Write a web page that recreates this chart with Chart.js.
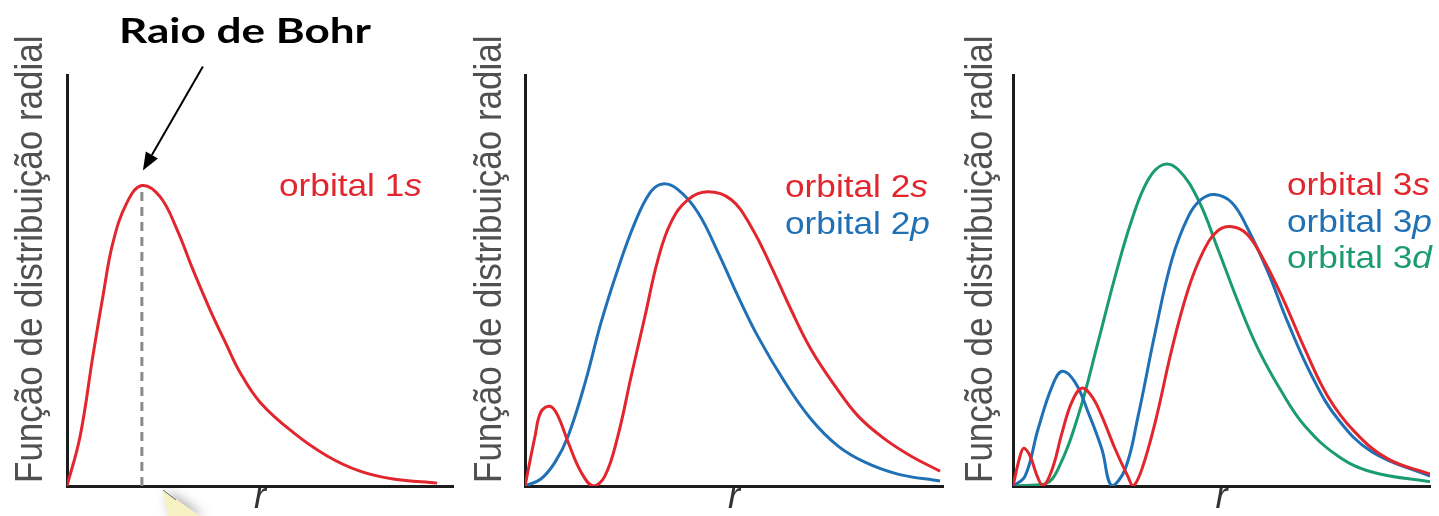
<!DOCTYPE html>
<html>
<head>
<meta charset="utf-8">
<script src="https://cdn.jsdelivr.net/npm/chart.js@4.4.1/dist/chart.umd.min.js"></script>
<style>
html,body{margin:0;padding:0;background:#fff;width:1439px;height:516px;overflow:hidden}
canvas{position:absolute;top:0}
</style>
</head>
<body>
<canvas id="c1" width="462" height="516" style="left:0px"></canvas>
<canvas id="c2" width="488" height="516" style="left:462px"></canvas>
<canvas id="c3" width="489" height="516" style="left:950px"></canvas>
<script>
// ---- text ----
const yAxisLabel = 'Função de distribuição radial';
const xAxisLabel = 'r';
const annotationTitle = 'Raio de Bohr';
const labels1 = [['orbital 1', 's']];
const labels2 = [['orbital 2', 's'], ['orbital 2', 'p']];
const labels3 = [['orbital 3', 's'], ['orbital 3', 'p'], ['orbital 3', 'd']];

// ---- data (r in % of axis length, value in % of axis height) ----
const r1s = [0, 3.4, 6.7, 9.3, 11.9, 15.5, 19.4, 24.1, 28.5, 32.6, 37.0, 41.5, 44.8, 50.0, 58.5, 67.4, 75.9, 84.5, 95.9];
const v1s = [0, 12.1, 31.6, 46.1, 59.2, 68.9, 73.1, 70.4, 62.4, 52.7, 43.0, 34.0, 27.7, 20.4, 13.1, 7.3, 3.6, 1.7, 0.7];
const bohrRadius = 19.4;
const bohrPeak = 73.1;

const r2s = [0, 2.4, 3.8, 6.0, 7.9, 10.3, 13.4, 16.3, 19.1, 22.2, 25.4, 28.7, 31.8, 34.9, 39.0, 43.8, 49.3, 54.1, 58.9, 63.6, 68.4, 74.2, 79.7, 86.1, 92.3, 99.3];
const v2s = [0, 12.1, 18.0, 19.4, 17.0, 10.7, 3.4, 0, 2.4, 12.1, 26.7, 41.3, 55.1, 64.1, 69.7, 71.6, 69.7, 63.1, 53.4, 43.0, 33.3, 24.3, 17.0, 11.4, 7.3, 3.6];
const r2p = [0, 3.8, 7.2, 10.3, 14.4, 18.2, 22.2, 26.3, 30.1, 33.0, 36.6, 41.4, 46.2, 51.0, 55.7, 62.2, 68.4, 74.9, 81.3, 89.2, 99.3];
const v2p = [0, 1.7, 5.8, 12.1, 25.2, 39.8, 52.7, 64.1, 71.6, 73.5, 72.1, 66.5, 56.8, 46.1, 36.4, 25.2, 16.3, 9.7, 5.8, 2.9, 1.2];

const r3s = [0, 1.7, 2.6, 4.1, 5.8, 7.2, 9.4, 11.8, 14.1, 16.5, 18.9, 21.3, 24.5, 27.6, 28.8, 30.9, 34.1, 38.1, 42.0, 45.5, 49.0, 52.5, 56.0, 59.7, 64.5, 70.0, 75.5, 82.0, 89.9, 100];
const v3s = [0, 7.3, 9.2, 7.3, 2.4, 0, 4.1, 13.1, 20.4, 23.8, 21.8, 17.0, 9.0, 2.2, 0, 4.1, 15.5, 33.3, 47.8, 56.8, 62.0, 63.1, 61.4, 55.8, 46.1, 33.3, 21.8, 13.1, 6.6, 2.9];
const r3p = [0, 2.9, 6.0, 9.4, 11.8, 14.9, 18.0, 21.3, 23.7, 26.9, 30.0, 34.1, 38.1, 42.0, 45.0, 48.4, 52.5, 56.4, 61.2, 65.9, 71.7, 77.9, 86.1, 100];
const v3p = [0, 2.4, 13.8, 24.3, 27.9, 25.2, 18.0, 9.0, 0, 4.1, 17.0, 37.4, 55.1, 65.5, 69.6, 70.9, 68.9, 62.4, 51.9, 39.8, 26.7, 16.3, 8.3, 2.4];
const r3d = [0, 7.7, 10.8, 15.6, 20.4, 24.5, 28.5, 32.4, 36.0, 39.6, 44.4, 49.2, 54.0, 58.8, 64.5, 70.0, 77.9, 86.1, 100];
const v3d = [0, 0.5, 4.1, 17.0, 35.0, 51.0, 64.8, 74.5, 78.2, 77.0, 69.7, 57.5, 44.7, 33.3, 22.8, 14.6, 7.3, 3.4, 1.0];

// ---- styling ----
const RED = '#e2262e', BLUE = '#2070b6', GREEN = '#1b9c6e';
const SANS = '"Liberation Sans", Arial, Helvetica, sans-serif';

const pts = (rs, vs) => rs.map((r, i) => ({x: r, y: vs[i]}));
const curve = (label, rs, vs, color, order) => ({
  label, data: pts(rs, vs), borderColor: color, borderWidth: 3,
  pointRadius: 0, tension: 0.4, fill: false, order
});

function stretchedText(ctx, x, y, k, parts) {
  ctx.save();
  ctx.translate(x, y);
  ctx.scale(k, 1);
  let cx = 0;
  for (const p of parts) {
    ctx.font = p.font;
    ctx.fillStyle = p.color;
    ctx.fillText(p.t, cx, 0);
    cx += ctx.measureText(p.t).width;
  }
  ctx.restore();
}

const overlay = {
  id: 'overlay',
  afterDraw(chart, args, o) {
    const ctx = chart.ctx;
    ctx.save();
    ctx.textAlign = 'left';
    ctx.textBaseline = 'alphabetic';
    // rotated y label
    ctx.save();
    ctx.translate(o.yLabelX - o.left, 483);
    ctx.scale(1.1, 1);
    ctx.rotate(-Math.PI / 2);
    ctx.font = '35px ' + SANS;
    ctx.fillStyle = '#505050';
    ctx.fillText(yAxisLabel, 0, 0);
    ctx.restore();
    // orbital labels
    o.labels.forEach((lab, i) => {
      stretchedText(ctx, o.labelX - o.left, o.labelY + i * 36.5, 1.1, [
        {t: lab[0], font: '32px ' + SANS, color: o.colors[i]},
        {t: lab[1], font: 'italic 32px ' + SANS, color: o.colors[i]}
      ]);
    });
    if (o.bohr) {
      const xs = chart.scales.x.getPixelForValue(bohrRadius);
      const ys = chart.scales.y.getPixelForValue(bohrPeak);
      const tipX = xs + 1, tipY = ys - 15, sx = xs + 61, sy = ys - 119;
      const ang = Math.atan2(tipY - sy, tipX - sx);
      const hl = 18, hw = 7;
      const bx = tipX - hl * Math.cos(ang), by = tipY - hl * Math.sin(ang);
      ctx.strokeStyle = '#000';
      ctx.lineWidth = 2;
      ctx.beginPath(); ctx.moveTo(sx, sy); ctx.lineTo(bx, by); ctx.stroke();
      ctx.fillStyle = '#000';
      ctx.beginPath();
      ctx.moveTo(tipX, tipY);
      ctx.lineTo(bx + hw * Math.sin(ang), by - hw * Math.cos(ang));
      ctx.lineTo(bx - hw * Math.sin(ang), by + hw * Math.cos(ang));
      ctx.closePath(); ctx.fill();
      // title
      ctx.font = 'bold 35px Lato, "Open Sans", sans-serif';
      const w = ctx.measureText(annotationTitle).width;
      stretchedText(ctx, 245 - 126, 43, 252 / w, [
        {t: annotationTitle, font: 'bold 35px Lato, "Open Sans", sans-serif', color: '#000'}
      ]);
      // partial callout shape at the bottom
      ctx.save();
      ctx.shadowColor = 'rgba(0,0,0,0.35)';
      ctx.shadowBlur = 12;
      ctx.shadowOffsetX = 4;
      ctx.fillStyle = '#f7f2c4';
      ctx.beginPath();
      ctx.moveTo(163, 490); ctx.lineTo(200, 516); ctx.lineTo(168, 516); ctx.closePath();
      ctx.fill();
      ctx.restore();
      ctx.strokeStyle = '#666'; ctx.lineWidth = 1;
      ctx.beginPath(); ctx.moveTo(163, 490); ctx.lineTo(176, 500); ctx.stroke();
    }
    ctx.restore();
  }
};

function makeChart(id, p) {
  return new Chart(document.getElementById(id), {
    type: 'line',
    data: {datasets: p.datasets},
    plugins: [overlay],
    options: {
      responsive: false,
      animation: false,
      devicePixelRatio: 1,
      events: [],
      layout: {padding: {left: 0, right: p.padRight, top: 75, bottom: 0}},
      plugins: {
        legend: {display: false},
        tooltip: {enabled: false},
        overlay: p.overlay
      },
      scales: {
        x: {
          type: 'linear', min: 0, max: 100,
          grid: {display: false},
          ticks: {display: false},
          border: {display: true, color: '#1c1c1c', width: 3},
          title: {display: true, text: xAxisLabel, color: '#333',
                  font: {family: SANS, size: 36, style: 'italic', lineHeight: 1}, padding: 0},
          afterFit: s => { s.height = 30; }
        },
        y: {
          type: 'linear', min: 0, max: 100,
          grid: {display: false},
          ticks: {display: false},
          border: {display: true, color: '#1c1c1c', width: 3},
          title: {display: false},
          afterFit: s => { s.width = p.yWidth; }
        }
      }
    }
  });
}

makeChart('c1', {
  padRight: 9, yWidth: 67,
  datasets: [
    curve('orbital 1s', r1s, v1s, RED, 0),
    {label: 'Raio de Bohr', data: [{x: bohrRadius, y: 0}, {x: bohrRadius, y: bohrPeak}],
     borderColor: '#8a8a8a', borderWidth: 3, borderDash: [9, 6], pointRadius: 0, order: 1}
  ],
  overlay: {left: 0, yLabelX: 42, labelX: 279, labelY: 196, labels: labels1, colors: [RED], bohr: true}
});

makeChart('c2', {
  padRight: 7, yWidth: 63,
  datasets: [
    curve('orbital 2s', r2s, v2s, RED, 0),
    curve('orbital 2p', r2p, v2p, BLUE, 1)
  ],
  overlay: {left: 462, yLabelX: 501, labelX: 785, labelY: 197, labels: labels2, colors: [RED, BLUE], bohr: false}
});

makeChart('c3', {
  padRight: 9, yWidth: 63,
  datasets: [
    curve('orbital 3s', r3s, v3s, RED, 0),
    curve('orbital 3p', r3p, v3p, BLUE, 1),
    curve('orbital 3d', r3d, v3d, GREEN, 2)
  ],
  overlay: {left: 950, yLabelX: 992, labelX: 1287, labelY: 195, labels: labels3, colors: [RED, BLUE, GREEN], bohr: false}
});
</script>
</body>
</html>
